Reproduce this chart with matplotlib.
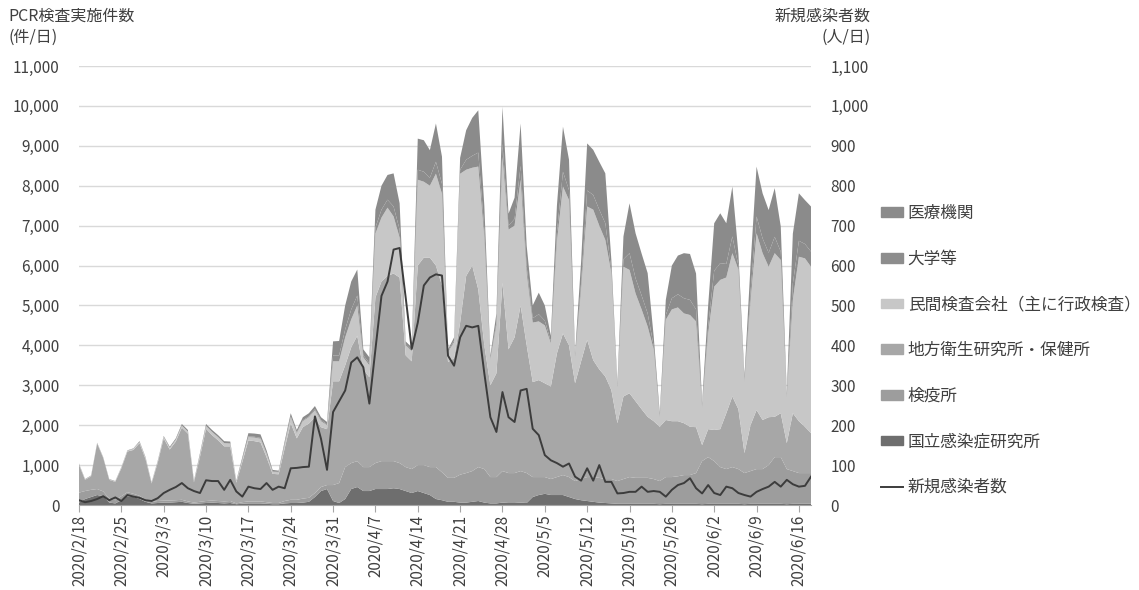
import numpy as np
import pandas as pd
import matplotlib
matplotlib.use('Agg')
import matplotlib.pyplot as plt
from matplotlib.patches import Patch
from matplotlib.lines import Line2D
from matplotlib.ticker import FuncFormatter

plt.rcParams['font.family'] = ['Noto Sans CJK JP', 'DejaVu Sans']

# daily values from 2020/2/18, one row per week (Tue..Mon)
dates = pd.date_range('2020-02-18', periods=122, freq='D')

kokuritsu = [60, 150, 200, 250, 220, 60, 40,
             120, 220, 200, 150, 80, 40, 50,
             60, 60, 70, 80, 50, 30, 40,
             50, 60, 50, 40, 50, 20, 30,
             40, 40, 40, 30, 20, 20, 40,
             50, 50, 60, 80, 200, 350, 400,
             100, 50, 150, 400, 450, 350, 350,
             400, 400, 400, 420, 400, 350, 300,
             350, 300, 250, 150, 120, 80, 80,
             60, 60, 80, 100, 60, 40, 40,
             60, 50, 50, 60, 50, 200, 250,
             280, 250, 250, 250, 200, 150, 120,
             100, 80, 60, 50, 40, 30, 30,
             30, 30, 30, 30, 30, 20, 30,
             30, 30, 30, 30, 30, 20, 30,
             30, 30, 30, 30, 30, 20, 30,
             30, 30, 30, 30, 30, 20, 30,
             30, 30, 30]

kenekijo = [250, 200, 180, 150, 120, 100, 80,
            100, 100, 80, 80, 60, 40, 50,
            50, 50, 50, 50, 40, 30, 40,
            50, 50, 50, 50, 50, 20, 40,
            50, 50, 50, 40, 30, 30, 60,
            80, 80, 100, 100, 100, 100, 100,
            400, 500, 800, 650, 650, 600, 600,
            650, 700, 700, 680, 650, 600, 600,
            650, 700, 700, 800, 700, 600, 600,
            700, 740, 770, 850, 840, 660, 660,
            790, 750, 750, 790, 750, 500, 450,
            420, 400, 450, 500, 500, 450, 530,
            600, 620, 620, 600, 610, 570, 620,
            670, 650, 650, 650, 620, 580, 670,
            670, 690, 720, 720, 770, 1080, 1170,
            1070, 920, 870, 920, 870, 780, 820,
            870, 870, 970, 1170, 1170, 880, 820,
            770, 770, 770]

chiho = [700, 280, 340, 1140, 840, 470, 460,
         700, 1020, 1100, 1320, 1010, 460, 950,
         1560, 1280, 1470, 1810, 1700, 510, 1130,
         1810, 1640, 1520, 1380, 1370, 520, 1010,
         1530, 1510, 1480, 1130, 730, 720, 1320,
         1920, 1540, 1790, 1860, 1900, 1500, 1400,
         2600, 2550, 2550, 2900, 3140, 2450, 2250,
         4150, 4500, 4640, 4700, 4650, 2800, 2700,
         5000, 5200, 5250, 5050, 4680, 2900, 3000,
         3810, 4940, 5150, 4450, 3100, 2300, 2600,
         4720, 3100, 3400, 4150, 3200, 2380, 2430,
         2350, 2320, 3100, 3550, 3300, 2450, 2950,
         3440, 2930, 2720, 2570, 2230, 1450, 2070,
         2100, 1920, 1720, 1530, 1450, 1360, 1430,
         1400, 1380, 1300, 1210, 1150, 400, 700,
         780, 950, 1400, 1770, 1500, 500, 1150,
         1480, 1230, 1200, 1010, 1100, 650, 1450,
         1300, 1160, 1000]

minkan = [20, 10, 10, 10, 10, 10, 10,
          20, 20, 30, 30, 30, 20, 30,
          40, 40, 50, 50, 50, 20, 50,
          70, 80, 80, 80, 70, 30, 60,
          80, 90, 90, 80, 50, 50, 100,
          150, 130, 150, 160, 170, 150, 100,
          500, 500, 700, 700, 760, 300, 300,
          1600, 1600, 1710, 1430, 1000, 250, 250,
          2150, 1900, 1800, 2300, 2300, 250, 400,
          3730, 2660, 2450, 3080, 2700, 650, 1200,
          3160, 3000, 2800, 3150, 1800, 1490, 1470,
          1450, 1080, 2800, 3680, 3640, 650, 1800,
          3340, 3770, 3600, 3420, 2930, 900, 3250,
          3090, 2700, 2500, 2260, 1800, 240, 2510,
          2800, 2850, 2750, 2800, 2650, 950, 2400,
          3590, 3740, 3400, 3590, 3500, 1800, 3100,
          4430, 4180, 3770, 4100, 3840, 1150, 2840,
          4120, 4220, 4170]

daigaku = [0, 0, 0, 0, 0, 0, 0,
           0, 0, 0, 0, 0, 0, 0,
           0, 0, 0, 0, 0, 0, 0,
           0, 0, 0, 0, 0, 0, 10,
           20, 20, 20, 20, 10, 10, 20,
           20, 20, 20, 20, 30, 30, 20,
           150, 150, 200, 250, 250, 50, 50,
           150, 200, 200, 250, 200, 30, 30,
           250, 250, 200, 300, 250, 30, 40,
           100, 250, 300, 350, 200, 20, 80,
           320, 100, 170, 350, 170, 110, 180,
           120, 50, 220, 370, 250, 20, 170,
           400, 370, 400, 420, 80, 20, 190,
           420, 380, 350, 330, 80, 20, 120,
           280, 330, 380, 380, 300, 20, 170,
           400, 420, 340, 420, 100, 30, 220,
           420, 370, 350, 410, 210, 20, 410,
           400, 360, 380]

iryo = [10, 10, 10, 10, 10, 10, 10,
        10, 10, 10, 20, 20, 10, 20,
        20, 30, 30, 40, 40, 20, 40,
        50, 50, 50, 50, 50, 20, 50,
        80, 80, 90, 70, 40, 30, 60,
        80, 60, 80, 80, 80, 70, 60,
        350, 360, 600, 700, 650, 150, 150,
        450, 600, 620, 830, 660, 70, 70,
        780, 790, 690, 960, 680, 40, 80,
        300, 740, 950, 1060, 600, 70, 220,
        930, 300, 530, 1060, 530, 320, 540,
        380, 140, 680, 1130, 760, 80, 530,
        1180, 1130, 1200, 1250, 250, 80, 570,
        1250, 1130, 1050, 1010, 240, 80, 380,
        820, 970, 1130, 1150, 900, 80, 530,
        1190, 1250, 1020, 1250, 300, 90, 680,
        1250, 1130, 1070, 1220, 630, 80, 1250,
        1190, 1100, 1130]

new_cases = [12, 7, 10, 15, 22, 12, 19,
             10, 25, 21, 18, 12, 10, 17,
             30, 38, 45, 55, 42, 35, 30,
             62, 60, 60, 38, 63, 34, 21,
             46, 42, 40, 55, 38, 46, 42,
             92, 93, 95, 96, 222, 166, 88,
             233, 260, 287, 357, 370, 345, 254,
             390, 524, 560, 640, 644, 520, 391,
             457, 550, 570, 578, 575, 374, 349,
             420, 449, 445, 449, 330, 220, 183,
             283, 220, 208, 287, 291, 191, 175,
             125, 112, 105, 96, 104, 71, 61,
             92, 61, 100, 58, 58, 29, 30,
             33, 33, 46, 33, 35, 33, 21,
             38, 50, 55, 67, 42, 29, 50,
             30, 25, 46, 42, 30, 25, 21,
             33, 40, 46, 58, 46, 63, 52,
             46, 48, 71]

labels = ['医療機関', '大学等', '民間検査会社（主に行政検査）',
          '地方衛生研究所・保健所', '検疫所', '国立感染症研究所', '新規感染者数']
colors = {'kokuritsu': '#6e6e6e', 'kenekijo': '#9d9d9d', 'chiho': '#a7a7a7',
          'minkan': '#c7c7c7', 'daigaku': '#8d8d8d', 'iryo': '#8b8b8b'}
line_color = '#3c3c3c'
text_color = '#404040'

fig = plt.figure(figsize=(11.39, 5.90), dpi=100)
ax = fig.add_axes([79/1139, 85/590, 732/1139, 439/590])

ax.stackplot(dates, kokuritsu, kenekijo, chiho, minkan, daigaku, iryo,
             colors=[colors['kokuritsu'], colors['kenekijo'], colors['chiho'],
                     colors['minkan'], colors['daigaku'], colors['iryo']],
             linewidth=0)
ax.set_ylim(0, 11000)
ax.set_yticks(np.arange(0, 11001, 1000))
ax.yaxis.set_major_formatter(FuncFormatter(lambda v, p: '{:,}'.format(int(v))))
ax.grid(axis='y', color='#d9d9d9', lw=1)
ax.set_axisbelow(True)
ax.set_xlim(dates[0], dates[-1])
ticks = pd.date_range('2020-02-18', '2020-06-16', freq='7D')
ax.set_xticks(ticks)
ax.set_xticklabels(['{}/{}/{}'.format(d.year, d.month, d.day) for d in ticks],
                   rotation=90)
for s in ['top', 'left', 'right']:
    ax.spines[s].set_visible(False)
ax.spines['bottom'].set_color('#a6a6a6')
ax.tick_params(axis='y', length=0, pad=14, labelsize=11, labelcolor=text_color)
ax.tick_params(axis='x', length=5, color='#a6a6a6', pad=2, labelsize=11,
               labelcolor=text_color)

ax2 = ax.twinx()
ax2.plot(dates, new_cases, color=line_color, lw=1.4)
ax2.set_ylim(0, 1100)
ax2.set_yticks(np.arange(0, 1101, 100))
ax2.yaxis.set_major_formatter(FuncFormatter(lambda v, p: '{:,}'.format(int(v))))
for s in ['top', 'left', 'right', 'bottom']:
    ax2.spines[s].set_visible(False)
ax2.tick_params(axis='y', length=0, pad=14, labelsize=11, labelcolor=text_color)

fig.text(8/1139, 1 - 8/590, 'PCR検査実施件数', ha='left', va='top',
         fontsize=11.5, color=text_color)
fig.text(8/1139, 1 - 29/590, '(件/日)', ha='left', va='top',
         fontsize=11.5, color=text_color)
fig.text(871/1139, 1 - 8/590, '新規感染者数', ha='right', va='top',
         fontsize=11.5, color=text_color)
fig.text(871/1139, 1 - 29/590, '(人/日)', ha='right', va='top',
         fontsize=11.5, color=text_color)

handles = [Patch(color=colors['iryo']), Patch(color=colors['daigaku']),
           Patch(color=colors['minkan']), Patch(color=colors['chiho']),
           Patch(color=colors['kenekijo']), Patch(color=colors['kokuritsu']),
           Line2D([], [], color=line_color, lw=1.4)]
fig.legend(handles, labels, loc='upper left', bbox_to_anchor=(881/1139, 1 - 205/590),
           frameon=False, fontsize=12, labelspacing=1.72, handlelength=1.3,
           handleheight=0.5, handletextpad=0.3, borderaxespad=0, borderpad=0,
           labelcolor=text_color)

fig.savefig('out.png', dpi=100)
